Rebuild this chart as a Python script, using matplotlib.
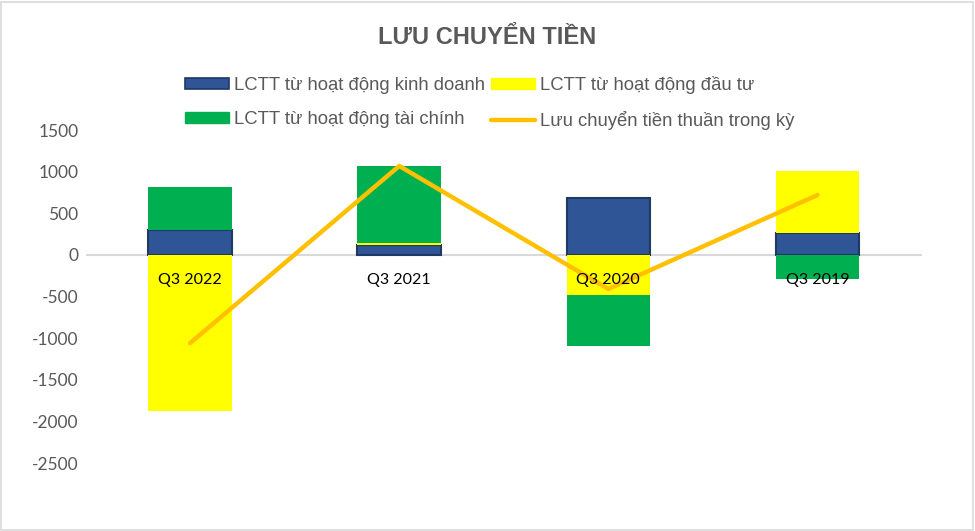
"""
Lưu chuyển tiền — stacked cash-flow bars with net line.
"""

import numpy as np
import matplotlib
matplotlib.use("Agg")
import matplotlib.pyplot as plt
import matplotlib.patches as mpatches

# ── Data ─────────────────────────────────────────────────────────────────────

categories = ["Q3 2022", "Q3 2021", "Q3 2020", "Q3 2019"]
kinh_doanh = [300, 120, 680, 268]
dau_tu     = [-1880, 28, -480, 740]
tai_chinh  = [520, 921, -609, -288]
thuan      = [-1060, 1069, -409, 720]

series_names = [
    "LCTT từ hoạt động kinh doanh",
    "LCTT từ hoạt động đầu tư",
    "LCTT từ hoạt động tài chính",
    "Lưu chuyển tiền thuần trong kỳ",
]
y_ticks = [1500, 1000, 500, 0, -500, -1000, -1500, -2000, -2500]

# ── Colours ──────────────────────────────────────────────────────────────────

BLUE      = "#2F5597"
BLUE_EDGE = "#1F3864"
YELLOW    = "#FFFF00"
GREEN     = "#00B050"
ORANGE    = "#FFC000"
TEXT_GREY = "#595959"

plt.rcParams["font.family"] = ["Liberation Sans", "DejaVu Sans"]

fig = plt.figure(figsize=(9.75, 5.31), dpi=100)
ax = fig.add_axes([0.0877, 0.128, 0.858, 0.627])

x = np.arange(len(categories))
width = 0.4

pos_base = np.zeros(len(categories))
neg_base = np.zeros(len(categories))
for vals, color, edge in [(kinh_doanh, BLUE, BLUE_EDGE),
                          (dau_tu, YELLOW, YELLOW),
                          (tai_chinh, GREEN, GREEN)]:
    vals = np.array(vals, dtype=float)
    bottom = np.where(vals >= 0, pos_base, neg_base)
    lw = 1.5 if edge != color else 0
    ax.bar(x, vals, width, bottom=bottom, color=color,
           edgecolor=edge, linewidth=lw, zorder=2)
    pos_base += np.where(vals >= 0, vals, 0)
    neg_base += np.where(vals < 0, vals, 0)

ax.axhline(0, color="#D9D9D9", linewidth=1.5, zorder=1)
ax.plot(x, thuan, color=ORANGE, linewidth=3.2, solid_capstyle="round",
        zorder=3)

for xi, label in zip(x, categories):
    ax.text(xi, -300, label, ha="center", va="center", fontsize=11.5,
            color="black", family=["Lato", "DejaVu Sans"], zorder=4)

ax.set_xlim(-0.5, len(categories) - 0.5)
ax.set_ylim(-2500, 1500)
ax.set_yticks(y_ticks)
ax.set_yticklabels([str(t) for t in y_ticks], fontsize=12.5, color=TEXT_GREY,
                   family=["Lato", "DejaVu Sans"])
ax.set_xticks([])
ax.tick_params(axis="y", length=0, pad=5)
for spine in ax.spines.values():
    spine.set_visible(False)

# ── Legend ───────────────────────────────────────────────────────────────────

h_kd = mpatches.Patch(facecolor=BLUE, edgecolor=BLUE_EDGE, linewidth=1.2)
h_dt = mpatches.Patch(facecolor=YELLOW, edgecolor=YELLOW)
h_tc = mpatches.Patch(facecolor=GREEN, edgecolor=GREEN)
h_lc = plt.Line2D([], [], color=ORANGE, linewidth=3.2, solid_capstyle="round")
leg = fig.legend([h_kd, h_tc, h_dt, h_lc],
                 [series_names[0], series_names[2], series_names[1], series_names[3]],
                 ncol=2, loc="center", bbox_to_anchor=(0.502, 0.806),
                 frameon=False, fontsize=13.3, handlelength=2.4,
                 handleheight=0.55, handletextpad=0.25, columnspacing=0.35,
                 labelspacing=0.95)
for t in leg.get_texts():
    t.set_color(TEXT_GREY)

fig.text(0.5, 0.93, "LƯU CHUYỂN TIỀN", ha="center", va="center",
         fontsize=17, fontweight="bold", color=TEXT_GREY)

# outer border like the chart frame
fig.patches.append(mpatches.Rectangle((0.001, 0.002), 0.997, 0.995,
                                      transform=fig.transFigure, fill=False,
                                      edgecolor="#D9D9D9", linewidth=1.2))

fig.savefig("out.png", dpi=100, facecolor="white")
plt.close(fig)
